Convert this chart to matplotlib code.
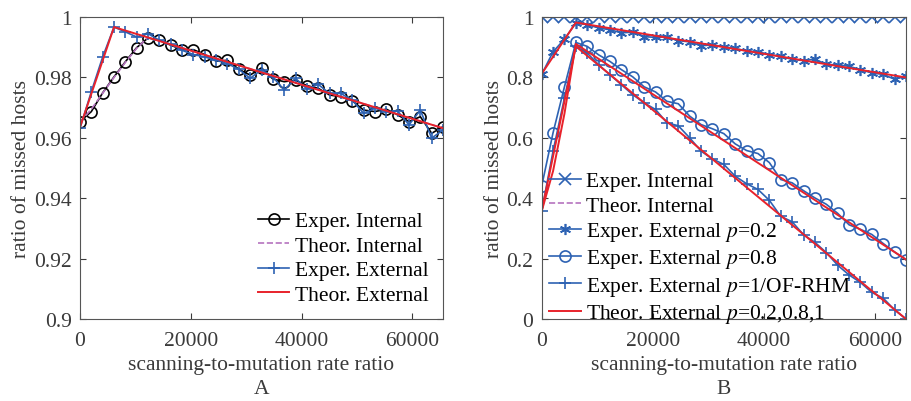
import matplotlib
matplotlib.use('Agg')
import matplotlib.pyplot as plt
from matplotlib.ticker import FormatStrFormatter
import numpy as np

plt.rcParams['font.family'] = ['Liberation Serif', 'DejaVu Serif']
plt.rcParams['mathtext.fontset'] = 'stix'

# x grid: scanning-to-mutation rate ratio (steps of 2048 up to 65536)
ratio = np.arange(0, 65537, 2048)

# --- panel A ---
a_exp_int = [0.9654, 0.9687, 0.9749, 0.9802, 0.9852, 0.9899, 0.9931, 0.9923, 0.9907,
             0.9892, 0.9892, 0.9876, 0.9854, 0.9857, 0.9827, 0.9808, 0.9832, 0.9795,
             0.9786, 0.9791, 0.9773, 0.9764, 0.9742, 0.9736, 0.9723, 0.9692, 0.9687,
             0.9695, 0.9676, 0.9654, 0.9670, 0.9615, 0.9637]
a_exp_ext = [0.9632, 0.9753, 0.9868, 0.9967, 0.9951, 0.9934, 0.9945, 0.9923, 0.9910,
             0.9890, 0.9876, 0.9868, 0.9857, 0.9846, 0.9827, 0.9797, 0.9826, 0.9802,
             0.9758, 0.9797, 0.9762, 0.9777, 0.9747, 0.9747, 0.9725, 0.9681, 0.9698,
             0.9687, 0.9689, 0.9643, 0.9692, 0.9599, 0.9626]
a_th_int_x = [0, 2048, 4096, 6144, 8192, 10240, 12288, 65536]
a_th_int = [0.9652, 0.9695, 0.9748, 0.9800, 0.9850, 0.9897, 0.9933, 0.9632]
a_th_ext_x = [0, 6144, 65536]
a_th_ext = [0.9635, 0.9967, 0.9632]

# --- panel B ---
b_exp_int = [1.0] * 33
b_th_int_x = [0, 65536]
b_th_int = [1.0, 1.0]
b_exp_p02 = [0.810, 0.885, 0.927, 0.980, 0.975, 0.964, 0.958, 0.948, 0.950, 0.935,
             0.933, 0.934, 0.922, 0.918, 0.905, 0.908, 0.902, 0.896, 0.888, 0.885,
             0.876, 0.870, 0.860, 0.856, 0.861, 0.843, 0.842, 0.837, 0.826, 0.815,
             0.810, 0.794, 0.804]
b_exp_p08 = [0.440, 0.617, 0.769, 0.916, 0.903, 0.875, 0.853, 0.826, 0.802, 0.769,
             0.752, 0.721, 0.713, 0.672, 0.644, 0.630, 0.614, 0.580, 0.558, 0.548,
             0.518, 0.462, 0.451, 0.425, 0.401, 0.380, 0.350, 0.312, 0.297, 0.280,
             0.250, 0.222, 0.196]
b_exp_p1 = [0.357, 0.556, 0.732, 0.903, 0.881, 0.842, 0.809, 0.776, 0.743, 0.716,
            0.694, 0.650, 0.640, 0.600, 0.556, 0.530, 0.512, 0.473, 0.448, 0.429,
            0.393, 0.340, 0.322, 0.279, 0.254, 0.220, 0.178, 0.146, 0.121, 0.088,
            0.069, 0.030, 0.0]
b_th_p02_x = [0, 6144, 65536]
b_th_p02 = [0.812, 0.982, 0.800]
b_th_p08_x = [0, 2048, 4096, 6144, 65536]
b_th_p08 = [0.357, 0.490, 0.680, 0.911, 0.197]
b_th_p1_x = [0, 6144, 65536]
b_th_p1 = [0.357, 0.903, 0.0]

blue = '#2D62B3'
red = '#E8222B'
purple = '#B573BF'
txt = '#3A3A3A'
fs = 15.5

fig = plt.figure(figsize=(9.11, 4.02), dpi=100)
axA = fig.add_axes([0.0878, 0.204, 0.3985, 0.751])
axB = fig.add_axes([0.5946, 0.204, 0.3999, 0.751])

mk = dict(markersize=8, markerfacecolor='none', linewidth=1.2, markeredgewidth=1.2)
asterisk = (6, 2, 0)

axA.plot(ratio, a_exp_int, '-o', color='black', label='Exper. Internal', **mk)
axA.plot(a_th_int_x, a_th_int, '--', color=purple, linewidth=1.2, label='Theor. Internal')
axA.plot(ratio, a_exp_ext, '-+', color=blue, label='Exper. External', **mk)
axA.plot(a_th_ext_x, a_th_ext, '-', color=red, linewidth=1.4, label='Theor. External')
axA.set_ylim(0.9, 1.0)
axA.set_yticks([0.9, 0.92, 0.94, 0.96, 0.98, 1.0])
axA.legend(loc='lower right', bbox_to_anchor=(0.995, 0.005), frameon=False, fontsize=fs,
           handlelength=1.45, handletextpad=0.25, labelspacing=0.2, borderaxespad=0.2)

axB.plot(ratio, b_exp_int, '-x', color=blue, label='Exper. Internal', **mk)
axB.plot(b_th_int_x, b_th_int, '--', color=purple, linewidth=1.2, label='Theor. Internal')
axB.plot(ratio, b_exp_p02, '-', marker=asterisk, color=blue, label='Exper. External $p$=0.2', **mk)
axB.plot(ratio, b_exp_p08, '-o', color=blue, label='Exper. External $p$=0.8', **mk)
axB.plot(ratio, b_exp_p1, '-+', color=blue, label='Exper. External $p$=1/OF-RHM', **mk)
axB.plot(b_th_p02_x, b_th_p02, '-', color=red, linewidth=1.4, label='Theor. External $p$=0.2,0.8,1')
axB.plot(b_th_p08_x, b_th_p08, '-', color=red, linewidth=1.4)
axB.plot(b_th_p1_x, b_th_p1, '-', color=red, linewidth=1.4)
axB.set_ylim(0, 1.0)
axB.set_yticks([0, 0.2, 0.4, 0.6, 0.8, 1.0])
axB.legend(loc='lower left', bbox_to_anchor=(-0.014, -0.063), frameon=False, fontsize=fs,
           handlelength=1.45, handletextpad=0.25, labelspacing=0.2, borderaxespad=0.2)

for ax, tag in ((axA, 'A'), (axB, 'B')):
    ax.set_xlim(0, 65536)
    ax.set_xticks([0, 20000, 40000, 60000])
    ax.yaxis.set_major_formatter(FormatStrFormatter('%g'))
    ax.set_xlabel('scanning-to-mutation rate ratio', fontsize=fs, color=txt, labelpad=3)
    ax.set_ylabel('ratio of missed hosts', fontsize=fs, color=txt, labelpad=2)
    ax.tick_params(direction='in', length=4, width=0.8, top=True, right=True,
                   labelsize=fs, colors=txt)
    ax.tick_params(axis='x', pad=9)
    ax.tick_params(axis='y', pad=6)
    for s in ax.spines.values():
        s.set_color('#555555')
        s.set_linewidth(0.8)
    # panel letter under the x label
    ax.text(0.5, -0.23, tag, transform=ax.transAxes, ha='center', va='center',
            fontsize=fs, color=txt)

fig.savefig('out.png', dpi=100)
